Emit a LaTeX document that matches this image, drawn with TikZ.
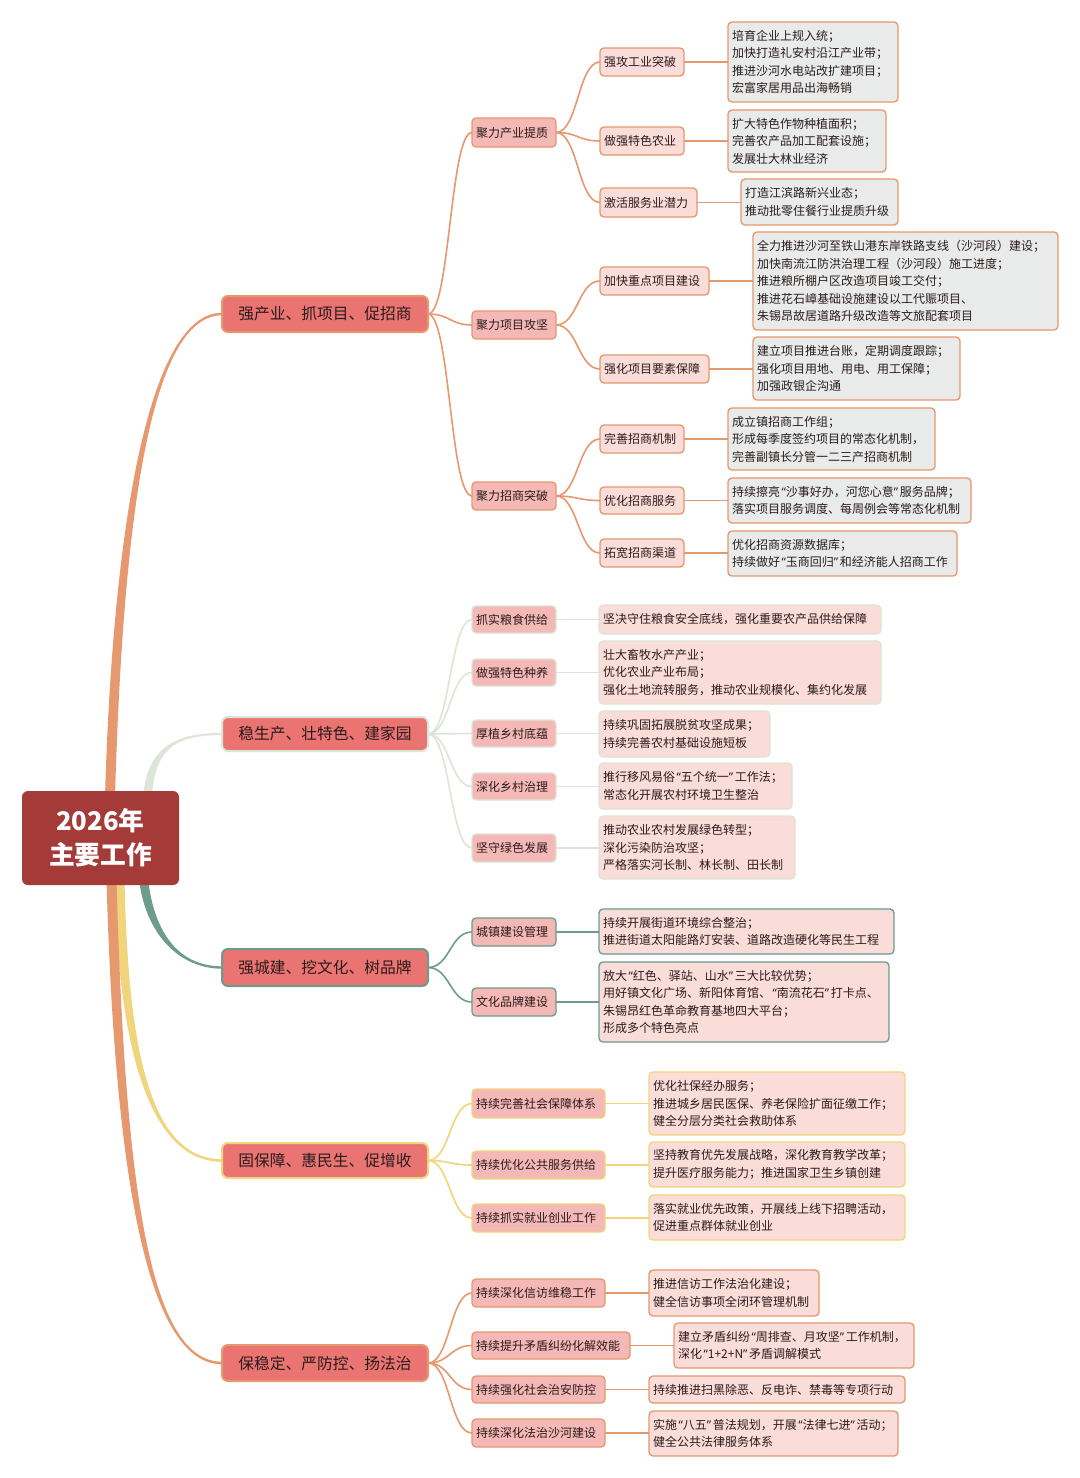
\documentclass[tikz,border=0pt]{standalone}
\usepackage{fontspec}
\setmainfont{Noto Sans CJK SC}
\newfontfamily\qfont{Noto Sans}
\usetikzlibrary{calc,backgrounds}
\definecolor{rootred}{HTML}{A43B39}
\definecolor{lonered}{HTML}{E97472}
\definecolor{pinkM}{HTML}{F4B8B6}
\definecolor{pinkL}{HTML}{FADCD9}
\definecolor{greyD}{HTML}{E8EBEA}
\definecolor{corange}{HTML}{E6986F}
\definecolor{cgreen}{HTML}{DCE5D7}
\definecolor{cteal}{HTML}{6C9C8B}
\definecolor{cyellow}{HTML}{F0D57C}
\definecolor{txt}{HTML}{2A1C1C}
\newcommand\qo{\kern1.2pt{\qfont “}}
\newcommand\qc{{\qfont ”}\kern1.2pt}
\newcommand\bx[7]{%
  \pgfmathsetmacro\bxw{(#4-#2)*0.75}%
  \pgfmathsetmacro\bxh{(#5-#3)*0.75}%
  \pgfmathsetmacro\bxt{(#4-#2)*0.75-6}%
  \node[#6,minimum width=\bxw pt,minimum height=\bxh pt,text width=\bxt pt] (#1) at ({(#2+#4)/2},{(#3+#5)/2}) {#7};}
\newcommand\cv[3]{\draw[link=#3] (#1.east) .. controls ($(#1.east)+(22,0)$) and ($(#2.west)+(-22,0)$) .. (#2.west);}
\newcommand\st[3]{\draw[link=#3] (#1.east) -- (#1.east -| #2.west);}
% #1 colour, #2 start coord, #3 end anchor, #4 #5 first control offset, #6 second control x offset, #7 half width at start, #8 signed half width at end
\newcommand\taper[8]{\fill[#1] ($(#2)+(-#7,0)$) .. controls ($(#2)+({#4-#7},{#5})$) and ($(#3)+({#6},{#8})$) .. ($(#3)+(0,{#8})$) -- ($(#3)+(0,{-1*(#8)})$) .. controls ($(#3)+({#6},{-1*(#8)})$) and ($(#2)+({#4+#7},{#5})$) .. ($(#2)+(#7,0)$) -- cycle;}
\begin{document}
\begin{tikzpicture}[x=0.75pt,y=-0.75pt,
  every node/.style={inner ysep=0pt,inner xsep=3pt,outer sep=0pt},
  base/.style={font=\fontsize{9}{13.125}\selectfont,text=txt,align=left,rounded corners=3pt,line width=1pt},
  rootbox/.style={fill=rootred,rounded corners=4.5pt,text=white,font=\fontsize{19.3}{25.5}\selectfont\bfseries,align=center},
  lone/.style={fill=lonered,draw=#1,rounded corners=4.5pt,line width=1.5pt,text=txt,font=\fontsize{11.8}{14}\selectfont,align=center},
  ltwo/.style={base,fill=pinkM,draw=#1},
  lthree/.style={base,fill=pinkL,draw=#1},
  detA/.style={base,fill=greyD,draw=corange},
  det/.style={base,fill=pinkL,draw=#1},
  link/.style={draw=#1,line width=1.2pt},
]
\useasboundingbox (0,0) rectangle (1080,1478);
% root and level 1
\bx{root}{22}{791}{179}{885}{rootbox}{2026年\\主要工作}
\bx{La}{222}{296}{428}{332}{lone=corange}{强产业、抓项目、促招商}
\bx{Lb}{222}{717}{428}{751}{lone=cgreen}{稳生产、壮特色、建家园}
\bx{Lc}{222}{949}{428}{986}{lone=cteal}{强城建、挖文化、树品牌}
\bx{Ld}{222}{1143}{428}{1178}{lone=cyellow}{固保障、惠民生、促增收}
\bx{Le}{222}{1345}{428}{1381}{lone=corange}{保稳定、严防控、扬法治}
% section A
\bx{A2a}{472}{118}{556}{147}{ltwo=corange}{聚力产业提质}
\bx{A2b}{472}{311}{556}{339}{ltwo=corange}{聚力项目攻坚}
\bx{A2c}{472}{482}{556}{510}{ltwo=corange}{聚力招商突破}
\bx{A3a}{600}{48}{684}{76}{lthree=corange}{强攻工业突破}
\bx{A3b}{600}{127}{684}{155}{lthree=corange}{做强特色农业}
\bx{A3c}{600}{188}{697}{217}{lthree=corange}{激活服务业潜力}
\bx{A3d}{600}{267}{709}{295}{lthree=corange}{加快重点项目建设}
\bx{A3e}{600}{355}{709}{383}{lthree=corange}{强化项目要素保障}
\bx{A3f}{600}{425}{684}{453}{lthree=corange}{完善招商机制}
\bx{A3g}{600}{487}{684}{514}{lthree=corange}{优化招商服务}
\bx{A3h}{600}{539}{684}{567}{lthree=corange}{拓宽招商渠道}
\bx{d1}{728}{22}{898}{102}{detA}{培育企业上规入统；\\加快打造礼安村沿江产业带；\\推进沙河水电站改扩建项目；\\宏富家居用品出海畅销}
\bx{d2}{728}{110}{886}{172}{detA}{扩大特色作物种植面积；\\完善农产品加工配套设施；\\发展壮大林业经济}
\bx{d3}{741}{179}{898}{225}{detA}{打造江滨路新兴业态；\\推动批零住餐行业提质升级}
\bx{d4}{753}{232}{1058}{330}{detA}{全力推进沙河至铁山港东岸铁路支线（沙河段）建设；\\加快南流江防洪治理工程（沙河段）施工进度；\\推进粮所棚户区改造项目竣工交付；\\推进花石嶂基础设施建设以工代赈项目、\\朱锡昂故居道路升级改造等文旅配套项目}
\bx{d5}{753}{337}{960}{400}{detA}{建立项目推进台账，定期调度跟踪；\\强化项目用地、用电、用工保障；\\加强政银企沟通}
\bx{d6}{728}{408}{935}{470}{detA}{成立镇招商工作组；\\形成每季度签约项目的常态化机制，\\完善副镇长分管一二三产招商机制}
\bx{d7}{728}{478}{971}{523}{detA}{持续擦亮\qo 沙事好办，河您心意\qc 服务品牌；\\落实项目服务调度、每周例会等常态化机制}
\bx{d8}{728}{531}{957}{576}{detA}{优化招商资源数据库；\\持续做好\qo 玉商回归\qc 和经济能人招商工作}
% section B
\bx{B2a}{472}{606}{556}{633}{ltwo=cgreen}{抓实粮食供给}
\bx{B2b}{472}{659}{556}{686}{ltwo=cgreen}{做强特色种养}
\bx{B2c}{472}{720}{556}{747}{ltwo=cgreen}{厚植乡村底蕴}
\bx{B2d}{472}{773}{556}{800}{ltwo=cgreen}{深化乡村治理}
\bx{B2e}{472}{834}{556}{862}{ltwo=cgreen}{坚守绿色发展}
\bx{e1}{599}{605}{881}{634}{det=cgreen}{坚决守住粮食安全底线，强化重要农产品供给保障}
\bx{e2}{599}{641}{881}{704}{det=cgreen}{壮大畜牧水产产业；\\优化农业产业布局；\\强化土地流转服务，推动农业规模化、集约化发展}
\bx{e3}{599}{711}{770}{757}{det=cgreen}{持续巩固拓展脱贫攻坚成果；\\持续完善农村基础设施短板}
\bx{e4}{599}{763}{792}{809}{det=cgreen}{推行移风易俗\qo 五个统一\qc 工作法；\\常态化开展农村环境卫生整治}
\bx{e5}{599}{816}{795}{879}{det=cgreen}{推动农业农村发展绿色转型；\\深化污染防治攻坚；\\严格落实河长制、林长制、田长制}
% section C
\bx{C2a}{472}{918}{556}{946}{ltwo=cteal}{城镇建设管理}
\bx{C2b}{472}{988}{556}{1016}{ltwo=cteal}{文化品牌建设}
\bx{f1}{599}{909}{894}{954}{det=cteal}{持续开展街道环境综合整治；\\推进街道太阳能路灯安装、道路改造硬化等民生工程}
\bx{f2}{599}{962}{889}{1042}{det=cteal}{放大\qo 红色、驿站、山水\qc 三大比较优势；\\用好镇文化广场、新阳体育馆、\qo 南流花石\qc 打卡点、\\朱锡昂红色革命教育基地四大平台；\\形成多个特色亮点}
% section D
\bx{D2a}{472}{1089}{605}{1118}{ltwo=cyellow}{持续完善社会保障体系}
\bx{D2b}{472}{1151}{605}{1179}{ltwo=cyellow}{持续优化公共服务供给}
\bx{D2c}{472}{1204}{605}{1232}{ltwo=cyellow}{持续抓实就业创业工作}
\bx{g1}{649}{1072}{905}{1135}{det=cyellow}{优化社保经办服务；\\推进城乡居民医保、养老保险扩面征缴工作；\\健全分层分类社会救助体系}
\bx{g2}{649}{1142}{905}{1187}{det=cyellow}{坚持教育优先发展战略，深化教育教学改革；\\提升医疗服务能力；推进国家卫生乡镇创建}
\bx{g3}{649}{1195}{905}{1240}{det=cyellow}{落实就业优先政策，开展线上线下招聘活动，\\促进重点群体就业创业}
% section E
\bx{E2a}{472}{1279}{605}{1307}{ltwo=corange}{持续深化信访维稳工作}
\bx{E2b}{472}{1332}{630}{1359}{ltwo=corange}{持续提升矛盾纠纷化解效能}
\bx{E2c}{472}{1376}{605}{1403}{ltwo=corange}{持续强化社会治安防控}
\bx{E2d}{472}{1419}{605}{1447}{ltwo=corange}{持续深化法治沙河建设}
\bx{h1}{649}{1270}{819}{1316}{det=corange}{推进信访工作法治化建设；\\健全信访事项全闭环管理机制}
\bx{h2}{674}{1323}{914}{1368}{det=corange}{建立矛盾纠纷\qo 周排查、月攻坚\qc 工作机制，\\深化\qo 1+2+N\qc 矛盾调解模式}
\bx{h3}{649}{1376}{905}{1403}{det=corange}{持续推进扫黑除恶、反电诈、禁毒等专项行动}
\bx{h4}{649}{1411}{898}{1456}{det=corange}{实施\qo 八五\qc 普法规划，开展\qo 法律七进\qc 活动；\\健全公共法律服务体系}
% connectors
\coordinate (sA) at ($(root.north)+(9.5,6)$);
\coordinate (sB) at ($(root.north)+(47,6)$);
\coordinate (sC) at ($(root.south)+(43,-6)$);
\coordinate (sD) at ($(root.south)+(19,-6)$);
\coordinate (sE) at ($(root.south)+(11,-6)$);
\begin{pgfonlayer}{background}
\fill[white] (0,0) rectangle (1080,1478);
\taper{corange}{sA}{La.west}{8}{-277}{-72}{5}{-1.3}
\taper{cgreen}{sB}{Lb.west}{3.5}{-49}{-47}{4.3}{-1.1}
\taper{cteal}{sC}{Lc.west}{6.5}{56}{-42}{4.5}{1.2}
\taper{cyellow}{sD}{Ld.west}{3.5}{171}{-72}{5}{1.3}
\taper{corange}{sE}{Le.west}{8.5}{311}{-72}{5}{1.3}
% A
\cv{La}{A2a}{corange}\cv{La}{A2b}{corange}\cv{La}{A2c}{corange}
\cv{A2a}{A3a}{corange}\cv{A2a}{A3b}{corange}\cv{A2a}{A3c}{corange}
\cv{A2b}{A3d}{corange}\cv{A2b}{A3e}{corange}
\cv{A2c}{A3f}{corange}\cv{A2c}{A3g}{corange}\cv{A2c}{A3h}{corange}
\st{A3a}{d1}{corange}\st{A3b}{d2}{corange}\st{A3c}{d3}{corange}
\st{A3d}{d4}{corange}\st{A3e}{d5}{corange}\st{A3f}{d6}{corange}
\st{A3g}{d7}{corange}\st{A3h}{d8}{corange}
% B
\cv{Lb}{B2a}{cgreen}\cv{Lb}{B2b}{cgreen}\cv{Lb}{B2c}{cgreen}\cv{Lb}{B2d}{cgreen}\cv{Lb}{B2e}{cgreen}
\st{B2a}{e1}{cgreen}\st{B2b}{e2}{cgreen}\st{B2c}{e3}{cgreen}\st{B2d}{e4}{cgreen}\st{B2e}{e5}{cgreen}
% C
\cv{Lc}{C2a}{cteal}\cv{Lc}{C2b}{cteal}
\st{C2a}{f1}{cteal}\st{C2b}{f2}{cteal}
% D
\cv{Ld}{D2a}{cyellow}\cv{Ld}{D2b}{cyellow}\cv{Ld}{D2c}{cyellow}
\st{D2a}{g1}{cyellow}\st{D2b}{g2}{cyellow}\st{D2c}{g3}{cyellow}
% E
\cv{Le}{E2a}{corange}\cv{Le}{E2b}{corange}\cv{Le}{E2c}{corange}\cv{Le}{E2d}{corange}
\st{E2a}{h1}{corange}\st{E2b}{h2}{corange}\st{E2c}{h3}{corange}\st{E2d}{h4}{corange}
\end{pgfonlayer}
\end{tikzpicture}
\end{document}
